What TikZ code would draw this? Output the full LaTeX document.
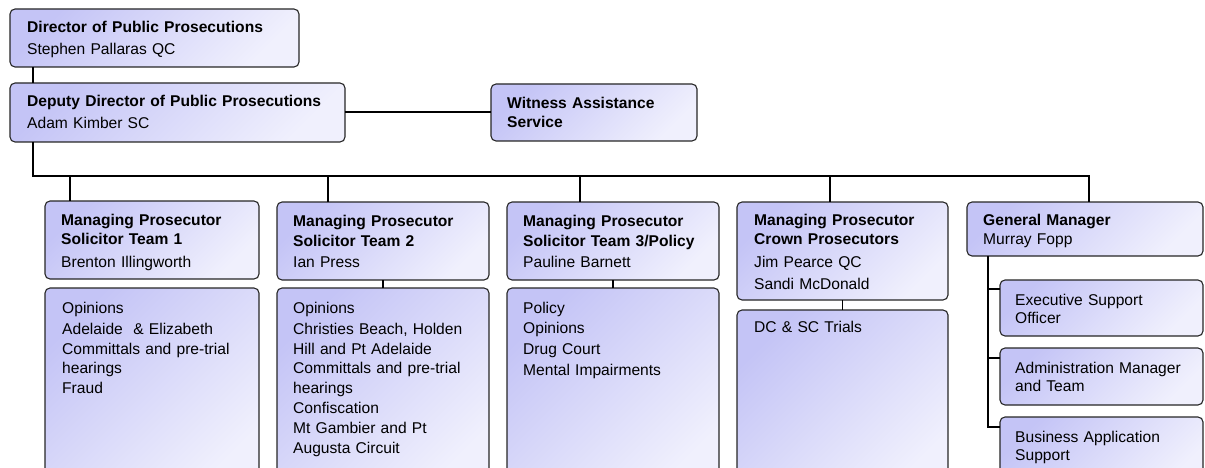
\documentclass[tikz,border=0pt]{standalone}
\usepackage{fontspec}
\setmainfont{Liberation Sans}
\definecolor{boxdark}{RGB}{196,196,246}
\definecolor{boxlight}{RGB}{240,240,253}
\begin{document}
\begin{tikzpicture}[x=1pt,y=-1pt,
  box/.style={draw=black!85, line width=1.1pt, rounded corners=5pt,
    top color=boxdark, bottom color=boxlight, shading angle=45,
    anchor=north west, inner sep=0pt, outer sep=0pt},
  txt/.style={anchor=base west, inner sep=0pt, align=left, text width=400pt,
    font=\fontsize{15.6}{19.6}\selectfont},
  subtxt/.style={txt, font=\fontsize{15.6}{18}\selectfont},
  conn/.style={line width=1.2pt, draw=black}]
\useasboundingbox (0,0) rectangle (1205,468);
\clip (0,0) rectangle (1205,468);

% ---- boxes ----
\node[box, minimum width=289pt, minimum height=58pt] (dir) at (10,9) {};
\node[box, minimum width=335pt, minimum height=59pt] (dep) at (10,83) {};
\node[box, minimum width=206pt, minimum height=57pt] (wit) at (491,84) {};

\node[box, minimum width=214pt, minimum height=78pt] (t1h) at (45,201) {};
\node[box, minimum width=214pt, minimum height=200pt] (t1b) at (45,288) {};
\node[box, minimum width=212pt, minimum height=78pt] (t2h) at (277,202) {};
\node[box, minimum width=212pt, minimum height=200pt] (t2b) at (277,288) {};
\node[box, minimum width=212pt, minimum height=78pt] (t3h) at (507,202) {};
\node[box, minimum width=212pt, minimum height=200pt] (t3b) at (507,288) {};
\node[box, minimum width=211pt, minimum height=98pt] (t4h) at (737,202) {};
\node[box, minimum width=211pt, minimum height=180pt] (t4b) at (737,310) {};

\node[box, minimum width=236pt, minimum height=54pt] (gm) at (967,202) {};
\node[box, minimum width=203pt, minimum height=56pt] (s1) at (1000,280) {};
\node[box, minimum width=203pt, minimum height=57pt] (s2) at (1000,348) {};
\node[box, minimum width=203pt, minimum height=70pt] (s3) at (1000,417) {};

% ---- texts ----
\node[txt] (dirT) at (27,33) {\textbf{Director of Public Prosecutions}\\[2.4pt]Stephen Pallaras QC};
\node[txt] (depT) at (27,107) {\textbf{Deputy Director of Public Prosecutions}\\[1.4pt]Adam Kimber SC};
\node[txt] (witT) at (507,109) {\textbf{Witness Assistance}\\[-0.6pt]\textbf{Service}};

\node[txt] (t1hT) at (61,225) {\textbf{Managing Prosecutor}\\[0.4pt]\textbf{Solicitor Team 1}\\[2.4pt]Brenton Illingworth};
\node[txt] (t1bT) at (62,313) {Opinions\\[2pt]Adelaide~ \& Elizabeth\\Committals and pre-trial\\hearings\\Fraud};

\node[txt] (t2hT) at (293,226) {\textbf{Managing Prosecutor}\\[0.4pt]\textbf{Solicitor Team 2}\\[1.4pt]Ian Press};
\node[txt] (t2bT) at (293,313) {Opinions\\[2pt]Christies Beach, Holden\\Hill and Pt Adelaide\\Committals and pre-trial\\hearings\\Confiscation\\[1pt]Mt Gambier and Pt\\Augusta Circuit};

\node[txt] (t3hT) at (523,226) {\textbf{Managing Prosecutor}\\[0.4pt]\textbf{Solicitor Team 3/Policy}\\[1.4pt]Pauline Barnett};
\node[txt] (t3bT) at (523,313) {Policy\\[1.2pt]Opinions\\[1.2pt]Drug Court\\[1.2pt]Mental Impairments};

\node[txt] (t4hT) at (754,225) {\textbf{Managing Prosecutor}\\[0.4pt]\textbf{Crown Prosecutors}\\[3.4pt]Jim Pearce QC\\[1.4pt]Sandi McDonald};
\node[txt] (t4bT) at (754,332) {DC \& SC Trials};

\node[txt] (gmT) at (983,225) {\textbf{General Manager}\\[0.4pt]Murray Fopp};
\node[subtxt] (s1T) at (1015,305) {Executive Support\\Officer};
\node[subtxt] (s2T) at (1015,373) {Administration Manager\\and Team};
\node[subtxt] (s3T) at (1015,442) {Business Application\\Support};

% ---- connectors ----
\coordinate (busL) at (33,176);
\coordinate (busR) at (1089,176);
\coordinate (d1) at (70,176);
\coordinate (d2) at (328,176);
\coordinate (d3) at (580,176);
\coordinate (d4) at (830,176);
\coordinate (gmx) at (988,256);

\draw[conn] ([xshift=23pt]dir.south west) -- ([xshift=23pt]dep.north west);
\draw[conn] (dep.east |- 0,112) -- (wit.west |- 0,112);
\draw[conn] ([xshift=23pt]dep.south west) -- (busL) -- (busR) -- (busR |- gm.north);
\draw[conn] (d1) -- (d1 |- t1h.north);
\draw[conn] (d2) -- (d2 |- t2h.north);
\draw[conn] (d3) -- (d3 |- t3h.north);
\draw[conn] (d4) -- (d4 |- t4h.north);
\draw[conn] (t2h.south) -- (t2b.north);
\draw[conn] (t3h.south) -- (t3b.north);
\draw[conn] (t4h.south) -- (t4b.north);
\draw[conn] (gmx) |- ([yshift=-9pt]s1.north west);
\draw[conn] (gmx) |- ([yshift=-10pt]s2.north west);
\draw[conn] (gmx) |- ([yshift=-10pt]s3.north west);
\end{tikzpicture}
\end{document}
